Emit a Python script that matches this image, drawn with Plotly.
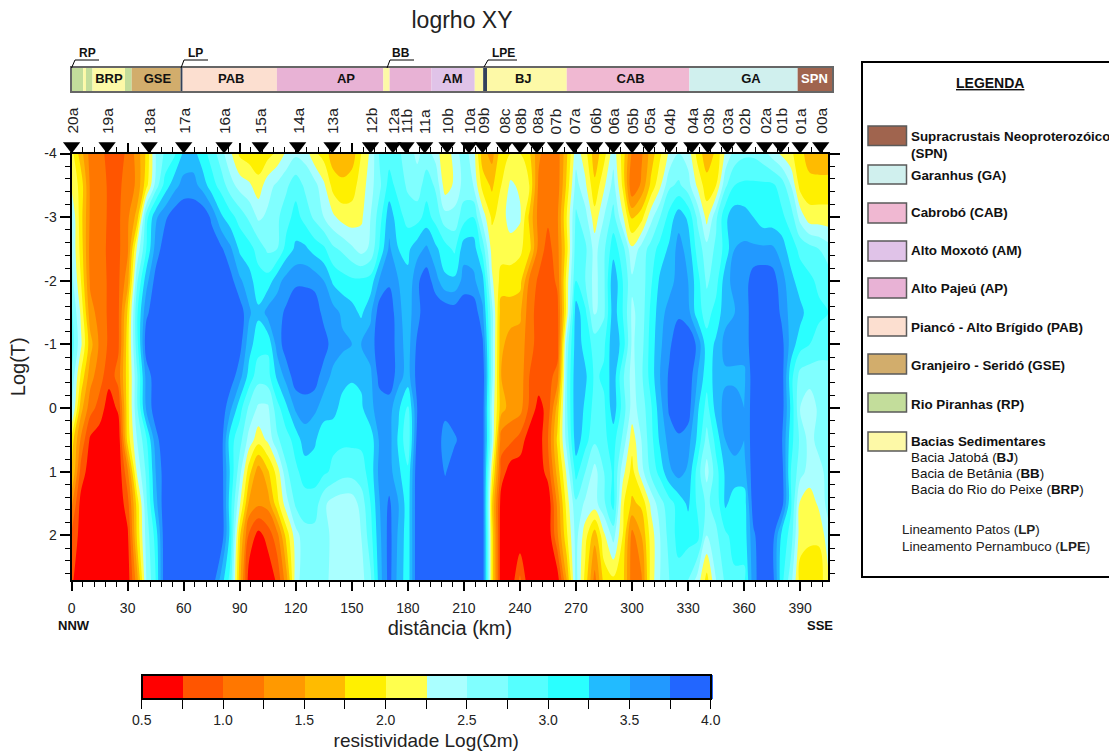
import plotly.graph_objects as go

W, H = 1109, 753

# ---------- data ----------
distance_km = [i * 5 for i in range(82)]
log_t = [-4, -3.5, -3, -2.5, -2, -1.5, -1, -0.5, 0, 0.5, 1, 1.5, 2, 2.7]

rho_m40 = [2.1,1.6,1.15,1.1,.9,.9,1.05,1.35,1.8,2.5,
 2.8,2.95,3.3,3.35,3.1,2.9,2.6,2.3,1.95,1.85,
 1.8,1.9,2.05,2.3,2.45,2.4,2.05,1.9,1.6,1.6,
 1.6,2.0,2.3,2.8,2.9,2.8,2.6,2.45,2.6,2.4,
 2.0,2.4,2.6,2.4,1.6,1.4,1.9,2.0,2.0,1.8,
 1.3,1.1,1.1,1.7,2.4,2.1,1.6,1.9,2.4,1.9,
 1.2,1.2,1.6,1.95,2.3,2.5,2.4,1.9,1.6,1.8,
 2.3,2.6,2.7,2.7,2.6,2.4,2.2,2.05,1.85,1.6,
 1.55,1.55]
rho_m35 = [2.2,1.9,1.2,1.15,.95,.95,1.1,1.3,1.9,2.6,
 3.1,3.4,3.6,3.6,3.4,3.1,2.9,2.6,2.4,2.3,
 2.1,2.4,2.55,2.7,2.9,2.7,2.6,2.3,1.9,1.8,
 1.9,2.1,2.4,2.7,3.1,2.9,2.7,2.6,2.9,2.7,
 2.1,2.3,2.6,2.5,1.9,1.7,2.0,2.3,2.2,2.0,
 1.2,1.1,1.1,1.8,2.6,2.3,1.8,2.2,2.6,1.95,
 1.0,1.3,1.8,2.2,2.7,2.8,2.6,2.2,1.85,2.0,
 2.7,3.0,3.05,3.05,3.05,3.05,2.9,2.5,1.9,1.85,
 1.85,1.85]
rho_m30 = [2.5,1.85,1.2,1.15,.95,.95,1.2,1.6,2.9,3.45,
 3.7,3.9,3.95,3.95,3.95,3.7,3.3,3.1,2.9,2.7,
 2.45,2.55,2.7,2.9,3.1,2.9,2.7,2.5,2.3,2.15,
 2.1,2.2,2.5,2.9,3.4,3.1,2.9,2.9,3.1,2.9,
 2.6,2.6,2.9,3.0,2.4,1.95,2.1,2.4,2.3,1.7,
 1.15,1.05,1.2,2.0,2.8,2.6,2.1,2.5,2.85,2.3,
 1.7,1.9,2.4,2.75,3.1,3.4,3.2,2.7,2.15,2.7,
 3.2,3.4,3.35,3.25,3.1,3.1,3.05,2.9,2.4,2.1,
 2.1,2.1]
rho_m25 = [2.5,1.9,1.15,1.1,.95,.95,1.2,2.3,3.0,3.6,
 3.9,3.95,3.95,3.95,3.95,3.9,3.8,3.55,3.2,3.1,
 2.9,2.7,2.75,3.1,3.3,3.3,3.15,3.05,2.8,2.7,
 2.55,2.4,2.55,3.05,3.55,3.25,3.2,3.4,3.55,3.3,
 3.1,2.95,3.4,3.4,2.9,2.15,2.1,2.1,2.05,1.85,
 1.15,.9,1.15,1.9,2.9,2.8,2.4,2.7,3.15,2.85,
 2.3,2.6,2.85,3.1,3.3,3.6,3.4,2.9,2.6,2.8,
 3.1,3.5,3.55,3.55,3.55,3.55,3.4,3.1,2.95,2.85,
 2.75,2.6]
rho_m20 = [2.6,2.0,1.2,1.15,.95,.95,1.4,2.7,3.4,3.85,
 3.95,3.95,3.95,3.95,3.95,3.95,3.95,3.85,3.55,3.35,
 3.1,3.1,3.4,3.6,3.7,3.7,3.65,3.5,3.2,3.1,
 3.05,3.05,3.1,3.55,3.7,3.5,3.3,3.7,3.9,3.6,
 3.3,3.3,3.6,3.55,3.35,2.3,1.9,1.9,1.85,1.2,
 .95,.85,1.05,2.1,3.0,2.75,2.4,2.7,3.45,3.0,
 2.55,2.6,2.95,3.3,3.4,3.6,3.5,3.1,2.7,2.9,
 3.4,3.6,3.6,3.9,3.95,3.9,3.6,3.35,3.1,3.05,
 2.95,2.9]
rho_m15 = [2.8,2.2,1.35,1.15,.95,.95,1.8,2.95,3.7,3.9,
 3.95,3.95,3.95,3.95,3.95,3.95,3.95,3.95,3.9,3.55,
 3.3,3.6,3.65,3.8,3.95,3.95,3.95,3.65,3.6,3.45,
 3.35,3.2,3.45,3.9,3.95,3.55,3.4,3.65,3.95,3.95,
 3.95,3.9,3.95,3.95,3.55,2.6,1.6,1.6,1.55,1.1,
 .9,.85,.9,2.1,3.4,3.05,2.45,2.7,3.4,3.0,
 2.45,2.6,3.05,3.4,3.6,3.7,3.6,3.1,2.9,3.1,
 3.4,3.5,3.6,3.9,3.95,3.95,3.7,3.4,3.35,3.1,
 3.05,3.0]
rho_m10 = [2.9,2.3,1.6,1.2,.95,.95,1.9,2.9,3.9,3.95,
 3.95,3.95,3.95,3.95,3.95,3.95,3.95,3.95,3.85,3.35,
 3.1,3.05,3.6,3.9,3.95,3.95,3.95,3.9,3.6,3.55,
 3.5,3.5,3.6,3.95,3.95,3.6,3.4,3.8,3.95,3.95,
 3.95,3.95,3.95,3.95,3.8,2.6,1.55,1.4,1.4,1.1,
 .9,.8,.85,2.6,3.4,3.15,2.9,2.95,3.45,3.15,
 2.45,2.65,3.1,3.45,3.7,3.95,3.95,3.7,3.1,3.3,
 3.6,3.6,3.6,3.9,3.95,3.95,3.85,3.4,3.1,3.0,
 2.9,2.9]
rho_m05 = [2.7,1.95,1.35,1.1,.85,1.1,1.9,2.7,3.6,3.9,
 3.95,3.95,3.95,3.95,3.95,3.95,3.95,3.9,3.6,3.15,
 2.85,2.9,3.3,3.6,3.9,3.95,3.9,3.6,3.45,3.35,
 3.3,3.3,3.45,3.85,3.95,3.6,3.4,3.85,3.95,3.95,
 3.95,3.95,3.95,3.95,3.95,2.6,1.5,1.4,1.4,1.0,
 .9,.9,1.1,2.7,3.45,3.3,2.95,3.05,3.4,2.8,
 2.4,2.7,3.1,3.5,3.8,3.95,3.95,3.5,3.1,3.35,
 3.45,3.45,3.45,3.9,3.95,3.95,3.9,3.1,2.65,2.6,
 2.6,2.6]
rho_p00 = [2.6,1.6,1.1,.9,.6,.8,1.9,2.7,3.55,3.9,
 3.95,3.95,3.95,3.95,3.95,3.95,3.95,3.55,3.1,2.7,
 2.45,2.45,2.9,3.2,3.55,3.6,3.55,3.4,3.35,3.15,
 3.05,3.2,3.45,3.6,3.6,3.3,2.95,3.75,3.95,3.95,
 3.85,3.95,3.95,3.95,3.9,2.45,1.6,1.4,1.35,.95,
 .65,.85,1.6,2.7,3.45,3.2,2.9,2.95,3.4,2.9,
 2.4,2.6,2.95,3.4,3.8,3.95,3.9,3.3,2.9,3.35,
 3.6,3.6,3.5,3.9,3.95,3.95,3.9,3.2,2.5,2.35,
 2.55,2.6]
rho_p05 = [1.9,1.2,.7,.6,.55,.55,1.85,2.5,2.95,3.65,
 3.95,3.95,3.95,3.95,3.95,3.95,3.9,3.1,2.85,2.4,
 2.1,2.3,2.7,2.9,3.1,3.4,3.3,3.05,3.05,3.05,
 3.05,3.05,3.1,3.55,3.6,3.2,2.8,3.85,3.95,3.95,
 3.6,3.7,3.9,3.95,3.9,2.5,1.1,1.05,.9,.6,
 .6,1.0,1.8,2.6,3.4,3.1,2.8,2.95,3.1,2.7,
 2.1,2.5,2.9,3.3,3.6,3.7,3.6,3.2,2.65,3.1,
 3.5,3.6,3.5,3.9,3.95,3.95,3.8,3.1,2.7,2.4,
 2.6,2.75]
rho_p10 = [1.8,.9,.6,.55,.55,.55,1.2,2.3,2.8,3.5,
 3.9,3.95,3.95,3.95,3.95,3.95,3.9,3.2,2.6,1.85,
 1.35,1.7,2.1,2.7,2.95,3.1,3.1,3.05,2.95,2.85,
 2.85,2.9,3.1,3.6,3.6,3.3,3.05,3.95,3.95,3.95,
 3.72,3.95,3.95,3.95,3.9,2.1,.9,.6,.6,.6,
 .6,.85,1.6,2.3,3.1,2.75,2.4,2.75,3.05,2.35,
 1.9,2.4,2.8,3.1,3.45,3.6,3.45,2.9,2.4,2.9,
 3.3,3.4,3.4,3.9,3.95,3.95,3.9,3.0,2.6,2.4,
 2.4,2.6]
rho_p15 = [1.3,.65,.55,.55,.55,.55,.9,1.85,2.7,3.4,
 3.95,3.95,3.95,3.95,3.95,3.95,3.95,3.1,2.3,1.45,
 1.3,1.35,1.9,2.4,2.8,2.9,2.9,2.55,2.4,2.35,
 2.35,2.6,3.0,3.5,3.8,3.5,3.1,3.95,3.95,3.95,
 3.95,3.95,3.95,3.95,3.95,1.8,.6,.55,.55,.55,
 .55,.55,1.3,2.1,2.7,2.45,2.4,2.7,3.1,2.05,
 1.7,1.8,2.3,2.65,2.9,3.1,3.3,2.95,2.7,2.85,
 3.3,3.1,3.1,3.9,3.95,3.95,3.9,3.05,2.2,2.1,
 2.3,2.6]
rho_p20 = [.95,.65,.55,.55,.55,.55,.7,1.8,2.6,3.1,
 3.95,3.95,3.95,3.95,3.95,3.95,3.95,3.15,1.8,.95,
 .65,.85,1.15,1.85,2.4,2.65,2.65,2.65,2.4,2.35,
 2.35,2.5,2.9,3.45,3.85,3.45,3.1,3.95,3.95,3.95,
 3.95,3.95,3.95,3.95,3.95,1.9,.55,.55,.55,.55,
 .55,.55,1.2,1.95,2.6,2.1,1.6,2.2,2.6,2.0,
 1.15,1.5,2.1,2.5,2.85,3.1,3.1,3.1,2.5,2.7,
 2.95,3.1,3.1,3.7,3.95,3.9,3.2,2.9,2.1,2.05,
 2.05,2.4]
rho_p27 = [.8,.55,.55,.55,.55,.55,.6,1.4,2.5,3.0,
 3.95,3.95,3.95,3.95,3.95,3.95,3.4,2.9,1.6,.6,
 .55,.55,.8,1.4,2.4,2.65,2.7,2.6,2.4,2.35,
 2.35,2.4,2.7,3.4,3.85,3.4,3.1,3.95,3.95,3.95,
 3.95,3.95,3.95,3.95,3.95,1.9,.55,.55,1.05,.55,
 .55,.55,.6,1.5,2.6,1.9,1.15,1.85,1.95,1.85,
 1.1,1.2,2.1,2.5,2.75,2.9,2.75,2.4,1.9,2.5,
 2.8,2.95,2.95,3.65,3.95,3.9,3.1,2.6,1.9,1.85,
 1.85,2.2]
rho_rows = [rho_m40, rho_m35, rho_m30, rho_m25, rho_m20, rho_m15, rho_m10, rho_m05,
            rho_p00, rho_p05, rho_p10, rho_p15, rho_p20, rho_p27]
for r in rho_rows:
    assert len(r) == 82, len(r)

station_names = ["20a","19a","18a","17a","16a","15a","14a","13a","12b","12a","11b","11a","10b","10a",
                 "09b","08c","08b","08a","07b","07a","06b","06a","05b","05a","04b","04a","03b","03a",
                 "02b","02a","01b","01a","00a"]
station_km = [0,19,41.5,60,81.6,101,121,139.4,160,172,179,189,201,212.7,
              220,231.5,240,249,259,269,280,290,300,309,320,332,340.6,351,
              360,371,379.6,390,401]

unit_ends_km = [6.2,7.7,11.2,28.6,32.2,58.4,59.5,110,167,170.4,192.8,216,220.5,222.6,265.3,331,389,407.4]
unit_starts_km = [0,6.2,7.7,11.2,28.6,32.2,58.4,59.5,110,167,170.4,192.8,216,220.5,222.6,265.3,331,389]
unit_keys = ["RP","SED","RP","SED","RP","GSE","LIN","PAB","AP","SED","AP","AM","SED","LIN","SED","CAB","GA","SPN"]
unit_colors = {"RP":"#c3dd9b","SED":"#fdf9a7","GSE":"#d2ad6c","LIN":"#33415a","PAB":"#fcdfd0","AP":"#e8b2d5",
               "AM":"#e0c3e8","CAB":"#f0b8d2","GA":"#d0f0ee","SPN":"#a0644e"}
unit_labels = ["BRP","GSE","PAB","AP","AM","BJ","CAB","GA","SPN"]
unit_label_km = [20,46,85.5,147,204,242,299.5,364,398]

band_colors = ["#ff0000","#ff5500","#ff7700","#ff9900","#ffbb00","#fff000","#ffff4d",
               "#aaffff","#80ffff","#55ffff","#2affff","#22bbff","#2299ff","#2266ff"]
cb_ticks = [.5,.75,1,1.25,1.5,1.75,2,2.25,2.5,2.75,3,3.25,3.5,3.75,4]
cb_labels = ["0.5","","1.0","","1.5","","2.0","","2.5","","3.0","","3.5","","4.0"]

FONT = "Liberation Sans, Arial, sans-serif"
TXT = "#222222"

def px(x): return x / W
def py(y): return 1 - y / H

PLOT_L, PLOT_R, PLOT_T, PLOT_B = 71.6, 828.2, 153.5, 580
XMAX = 405
YMIN, YMAX = -4, 2.7
BAR_L, BAR_R, BAR_T, BAR_B = 71.6, 832, 68, 91

n = len(band_colors)
colorscale = []
for i, c in enumerate(band_colors):
    colorscale += [[i / n, c], [(i + 1) / n, c]]

fig = go.Figure()

fig.add_trace(go.Contour(
    x=distance_km, y=log_t, z=rho_rows,
    zmin=.5, zmax=4, colorscale=colorscale, autocontour=False,
    contours=dict(start=.5, end=4, size=.25, coloring="fill", showlines=False),
    line=dict(width=0),
    hoverinfo="skip",
    colorbar=dict(orientation="h", x=(142 + 710.5) / 2 / W, xanchor="center", y=py(675), yanchor="top",
                  lenmode="pixels", len=568.5, thicknessmode="pixels", thickness=24,
                  outlinecolor="black", outlinewidth=2, borderwidth=0, xpad=0, ypad=0,
                  ticks="outside", ticklen=9, tickwidth=1, tickcolor="black",
                  tickmode="array", tickvals=cb_ticks, ticktext=cb_labels,
                  tickfont=dict(family=FONT, size=14, color=TXT),
                  title=dict(text="resistividade Log(Ωm)", side="bottom",
                             font=dict(family=FONT, size=19, color=TXT)))
))

marker_y = [.5] * len(station_km)
fig.add_trace(go.Scatter(x=station_km, y=marker_y, mode="markers",
                         marker=dict(symbol="triangle-down", size=15, color="black"),
                         cliponaxis=False, hoverinfo="skip", showlegend=False,
                         xaxis="x", yaxis="y3"))

for key, s, e in zip(unit_keys, unit_starts_km, unit_ends_km):
    fig.add_trace(go.Bar(x=[e - s], base=[s], y=["geo"], orientation="h", width=1,
                         marker=dict(color=unit_colors[key], line=dict(width=0)),
                         xaxis="x2", yaxis="y2", hoverinfo="skip", showlegend=False))

fig.add_trace(go.Scatter(x=unit_label_km, y=["geo"] * len(unit_labels), mode="text", text=[f"<b>{t}</b>" for t in unit_labels],
                         textfont=dict(family=FONT, size=13,
                                       color=["#111111"] * 8 + ["white"]),
                         textposition="middle center", xaxis="x2", yaxis="y2",
                         hoverinfo="skip", showlegend=False))

shapes, ann = [], []

def text(x, y, s, size=12, anchor="left", color=TXT, angle=0, yanchor="middle"):
    ann.append(dict(x=px(x), y=py(y), xref="paper", yref="paper", text=s, showarrow=False,
                    xanchor=anchor, yanchor=yanchor, textangle=angle,
                    font=dict(family=FONT, size=size, color=color)))

# station names
for nm, km in zip(station_names, station_km):
    ann.append(dict(x=km, y=py(136), xref="x", yref="paper", text=nm, showarrow=False,
                    xanchor="center", yanchor="bottom", textangle=-90,
                    font=dict(family=FONT, size=15.5, color=TXT)))

# call-outs
for lab, lx, pts in [("RP", 87, [(71.5,68),(75,60),(99,60)]),
                     ("LP", 195, [(181,68),(184,60),(208,60)]),
                     ("BB", 401, [(387,68),(390,60),(414,60)]),
                     ("LPE", 503, [(484,67),(488,60),(517,60)])]:
    path = "M " + " L ".join(f"{px(a)} {py(b)}" for a, b in pts)
    shapes.append(dict(type="path", path=path, xref="paper", yref="paper", line=dict(color="black", width=1)))
    text(lx, 53, f"<b>{lab}</b>", size=12, anchor="center", color="#111111")

text(74, 625, "<b>NNW</b>", size=13, anchor="center", color="#111111")
text(820, 625, "<b>SSE</b>", size=13, anchor="center", color="#111111")

# legend box
shapes.append(dict(type="rect", xref="paper", yref="paper", x0=px(862), x1=px(1125), y0=py(577), y1=py(62),
                   line=dict(color="black", width=2), fillcolor="white", layer="below"))
text(990, 83, "<b><u>LEGENDA</u></b>", size=14, anchor="center", color="#111111")
legend_rows = [("#a0644e",126,145.5),("#d0f0ee",165,184),("#f0b8d2",203,223),("#e0c3e8",241,261),
               ("#e8b2d5",278,298),("#fcdfd0",317,336),("#d2ad6c",354,374),("#c3dd9b",393,412),("#fdf9a7",432,451)]
for c, y0, y1 in legend_rows:
    shapes.append(dict(type="rect", xref="paper", yref="paper", x0=px(868), x1=px(906.5), y0=py(y1), y1=py(y0),
                       fillcolor=c, line=dict(color="#5a5a5a", width=1.5)))
for y, s in [(136,"<b>Supracrustais Neoproterozóico</b>"),(153,"<b>(SPN)</b>"),(175,"<b>Garanhus (GA)</b>"),
             (213,"<b>Cabrobó (CAB)</b>"),(251,"<b>Alto Moxotó (AM)</b>"),(288,"<b>Alto Pajeú (AP)</b>"),
             (327,"<b>Piancó - Alto Brígido (PAB)</b>"),(365,"<b>Granjeiro - Seridó (GSE)</b>"),
             (404,"<b>Rio Piranhas (RP)</b>"),(441,"<b>Bacias Sedimentares</b>"),
             (457,"Bacia Jatobá (<b>BJ</b>)"),(473,"Bacia de Betânia (<b>BB</b>)"),(489,"Bacia do Rio do Peixe (<b>BRP</b>)")]:
    text(909, y, s, size=13.4, color="#111111")
text(900, 529, "Lineamento Patos (<b>LP</b>)", size=13.4)
text(900, 546, "Lineamento Pernambuco (<b>LPE</b>)", size=13.4)

fig.update_layout(
    width=W, height=H, autosize=False, margin=dict(l=0, r=0, t=0, b=0, autoexpand=False),
    paper_bgcolor="white", plot_bgcolor="white", showlegend=False, barmode="overlay",
    title=dict(text="logrho XY", x=462 / W, xanchor="center", y=py(20), yanchor="middle",
               font=dict(family=FONT, size=23, color=TXT)),
    shapes=shapes, annotations=ann,
    xaxis=dict(domain=[px(PLOT_L), px(PLOT_R)], range=[0, XMAX], anchor="y",
               tickmode="array", tickvals=list(range(0, 391, 30)), showgrid=False, zeroline=False,
               ticks="outside", ticklen=9, tickwidth=1.5, tickcolor="black", mirror="ticks",
               showline=True, linecolor="black", linewidth=2,
               minor=dict(tickmode="linear", tick0=0, dtick=6, ticks="outside", ticklen=5, tickwidth=1, tickcolor="black"),
               tickfont=dict(family=FONT, size=14, color=TXT), ticklabelstandoff=5,
               title=dict(text="distância (km)", font=dict(family=FONT, size=20, color=TXT), standoff=6)),
    yaxis=dict(domain=[py(PLOT_B), py(PLOT_T)], range=[YMAX, YMIN], anchor="x",
               tickmode="array", tickvals=[-4,-3,-2,-1,0,1,2], ticktext=["-4","-3","-2","-1","0","1","2"],
               showgrid=False, zeroline=False,
               ticks="outside", ticklen=10, tickwidth=1.5, tickcolor="black", mirror="ticks",
               showline=True, linecolor="black", linewidth=2,
               minor=dict(tickmode="linear", tick0=-4, dtick=.2, ticks="outside", ticklen=5, tickwidth=1, tickcolor="black"),
               tickfont=dict(family=FONT, size=14, color=TXT),
               title=dict(text="Log(T)", font=dict(family=FONT, size=20, color=TXT), standoff=13)),
    xaxis2=dict(domain=[px(BAR_L), px(BAR_R)], range=[0, 407.4], anchor="y2", showticklabels=False, ticks="",
                showgrid=False, zeroline=False, showline=True, mirror=True, linecolor="#666666", linewidth=2),
    yaxis2=dict(domain=[py(BAR_B), py(BAR_T)], anchor="x2", showticklabels=False, ticks="", type="category",
                showgrid=False, zeroline=False, showline=True, mirror=True, linecolor="#666666", linewidth=2),
    yaxis3=dict(domain=[py(152), py(140)], range=[0, 1], anchor="x", visible=False),
)

fig.write_html("out.html", config=dict(displayModeBar=False), post_script="document.body.style.margin='0';")
